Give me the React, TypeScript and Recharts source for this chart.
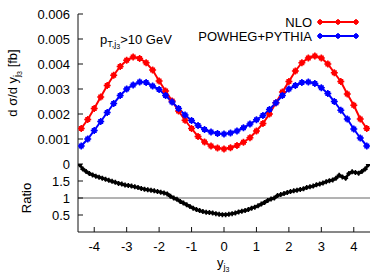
import React from 'react';
import { LineChart, Line, XAxis, YAxis, ReferenceLine, Legend } from 'recharts';

const W = 390;
const H = 273;
const FONT = '"Liberation Sans", Arial, Helvetica, sans-serif';
const RED = '#ff0000';
const BLUE = '#0000ff';

// bin centres of the distribution
const yBins = [
  -4.4, -4.2, -4.0, -3.8, -3.6, -3.4, -3.2, -3.0, -2.8, -2.6, -2.4, -2.2, -2.0, -1.8, -1.6, -1.4, -1.2, -1.0, -0.8, -0.6, -0.4, -0.2, 0.0,
  0.2, 0.4, 0.6, 0.8, 1.0, 1.2, 1.4, 1.6, 1.8, 2.0, 2.2, 2.4, 2.6, 2.8, 3.0, 3.2, 3.4, 3.6, 3.8, 4.0, 4.2, 4.4,
];

const nlo = [
  0.00142, 0.00178, 0.00222, 0.00268, 0.00314, 0.00355, 0.0039, 0.00415, 0.00428, 0.00422, 0.00405, 0.00376, 0.00332, 0.00292, 0.00252, 0.00212, 0.00175, 0.00142, 0.0011, 0.00088, 0.00072, 0.00064, 0.0006,
  0.00065, 0.00074, 0.00087, 0.00105, 0.00132, 0.00162, 0.002, 0.00245, 0.00288, 0.0033, 0.00372, 0.00405, 0.00424, 0.00432, 0.00424, 0.004, 0.00365, 0.0033, 0.0028, 0.00235, 0.0018, 0.00142,
];

const powheg = [
  0.00072, 0.001, 0.00134, 0.0017, 0.00206, 0.00242, 0.00274, 0.003, 0.00316, 0.00328, 0.00326, 0.00312, 0.00298, 0.00274, 0.00248, 0.00222, 0.00196, 0.00174, 0.00154, 0.00138, 0.00128, 0.00122, 0.0012,
  0.00124, 0.00132, 0.00145, 0.0016, 0.00177, 0.00194, 0.00218, 0.00245, 0.00274, 0.003, 0.00314, 0.00326, 0.00328, 0.00322, 0.00305, 0.00282, 0.0025, 0.00215, 0.0018, 0.0014, 0.00104, 0.00072,
];

// finer bins of the ratio panel
const ratioBins = [
  -4.45, -4.35, -4.25, -4.15, -4.05, -3.95, -3.85, -3.75, -3.65, -3.55, -3.45, -3.35, -3.25, -3.15, -3.05,
  -2.95, -2.85, -2.75, -2.65, -2.55, -2.45, -2.35, -2.25, -2.15, -2.05, -1.95, -1.85, -1.75, -1.65, -1.55,
  -1.45, -1.35, -1.25, -1.15, -1.05, -0.95, -0.85, -0.75, -0.65, -0.55, -0.45, -0.35, -0.25, -0.15, -0.05,
  0.05, 0.15, 0.25, 0.35, 0.45, 0.55, 0.65, 0.75, 0.85, 0.95, 1.05, 1.15, 1.25, 1.35, 1.45,
  1.55, 1.65, 1.75, 1.85, 1.95, 2.05, 2.15, 2.25, 2.35, 2.45, 2.55, 2.65, 2.75, 2.85, 2.95,
  3.05, 3.15, 3.25, 3.35, 3.45, 3.55, 3.65, 3.75, 3.85, 3.95, 4.05, 4.15, 4.25, 4.35, 4.45,
];

const ratioVals = [
  1.98, 1.85, 1.78, 1.72, 1.68, 1.64, 1.61, 1.58, 1.55, 1.52, 1.49, 1.46, 1.43, 1.41, 1.38,
  1.37, 1.35, 1.33, 1.31, 1.28, 1.26, 1.24, 1.23, 1.21, 1.19, 1.17, 1.15, 1.12, 1.05, 1.0,
  0.96, 0.9, 0.85, 0.8, 0.75, 0.7, 0.66, 0.63, 0.6, 0.58, 0.57, 0.56, 0.54, 0.52, 0.51,
  0.51, 0.52, 0.54, 0.56, 0.59, 0.61, 0.63, 0.66, 0.7, 0.73, 0.77, 0.82, 0.87, 0.93, 0.97,
  1.0, 1.07, 1.1, 1.13, 1.16, 1.19, 1.21, 1.23, 1.25, 1.27, 1.31, 1.33, 1.35, 1.39, 1.41,
  1.44, 1.48, 1.51, 1.53, 1.58, 1.67, 1.62, 1.58, 1.72, 1.77, 1.75, 1.73, 1.78, 1.85, 1.98,
];

const xTicks = [-4, -3, -2, -1, 0, 1, 2, 3, 4];
const topYTicks = [0, 0.001, 0.002, 0.003, 0.004, 0.005, 0.006];
const ratioYTicks = [0.5, 1, 1.5];

const mainData = yBins.map((y, i) => ({ y, nlo: nlo[i], powheg: powheg[i] }));
const ratioData = ratioBins.map((y, i) => ({ y, r: ratioVals[i] }));

const tickFont = { fontSize: 13, fill: '#000', fontFamily: FONT };
const frame = { stroke: '#111', strokeWidth: 1 };
const NoTick = () => <g />;

const CrossBox = ({ cx, cy, color, s, a }: { cx: number; cy: number; color: string; s: number; a: number }) => {
  if (cx == null || cy == null || isNaN(cx) || isNaN(cy)) return <g />;
  return (
    <g>
      <rect x={cx - s / 2} y={cy - s / 2} width={s} height={s} fill={color} />
      <path d={`M${cx - a},${cy}H${cx + a}M${cx},${cy - a}V${cy + a}`} stroke={color} strokeWidth={1.6} />
    </g>
  );
};

const makeDot = (color: string, s: number, a: number) => (p: any) => (
  <CrossBox key={`d${p.index}`} cx={p.cx} cy={p.cy} color={color} s={s} a={a} />
);

const LegendContent = (props: any) => {
  const payload = props.payload || [];
  return (
    <svg width={W} height={50} style={{ display: 'block', overflow: 'visible' }}>
      {payload.map((e: any, i: number) => {
        const yy = 22 + i * 14;
        return (
          <g key={i}>
            <text x={312} y={yy} textAnchor="end" dominantBaseline="central" fontSize={13} fontFamily={FONT} fill="#000">
              {e.value}
            </text>
            <line x1={320} x2={356} y1={yy} y2={yy} stroke={e.color} strokeWidth={2} />
            <CrossBox cx={320} cy={yy} color={e.color} s={4} a={3} />
            <CrossBox cx={338} cy={yy} color={e.color} s={4} a={3} />
            <CrossBox cx={356} cy={yy} color={e.color} s={4} a={3} />
          </g>
        );
      })}
    </svg>
  );
};

export default function App() {
  return (
    <div style={{ position: 'absolute', left: 0, top: 0, width: W, height: H, background: '#fff', fontFamily: FONT }}>
      <div style={{ position: 'absolute', left: 0, top: 0 }}>
        <LineChart width={W} height={H} data={mainData} margin={{ top: 14, right: 20, bottom: 109, left: 0 }}>
          <XAxis xAxisId="b" dataKey="y" type="number" domain={[-4.5, 4.5]} ticks={xTicks} interval={0}
            orientation="bottom" height={0} tick={NoTick} tickSize={-5} axisLine={frame} tickLine={frame} allowDataOverflow />
          <XAxis xAxisId="t" dataKey="y" type="number" domain={[-4.5, 4.5]} ticks={xTicks} interval={0}
            orientation="top" height={0} tick={NoTick} tickSize={-5} axisLine={frame} tickLine={frame} allowDataOverflow />
          <YAxis yAxisId="l" type="number" domain={[0, 0.006]} ticks={topYTicks} interval={0} width={78}
            tickSize={-5} tickMargin={13} tick={tickFont} axisLine={frame} tickLine={frame}
            tickFormatter={(v: number) => (v === 0 ? '0' : v.toFixed(3))} allowDataOverflow />
          <YAxis yAxisId="r" orientation="right" type="number" domain={[0, 0.006]} ticks={topYTicks} interval={0} width={0}
            tickSize={-5} tick={NoTick} axisLine={frame} tickLine={frame} allowDataOverflow />
          <Line xAxisId="b" yAxisId="l" dataKey="nlo" name="NLO" stroke={RED} strokeWidth={2}
            dot={makeDot(RED, 5, 3.5)} activeDot={false} isAnimationActive={false} />
          <Line xAxisId="b" yAxisId="l" dataKey="powheg" name="POWHEG+PYTHIA" stroke={BLUE} strokeWidth={2}
            dot={makeDot(BLUE, 5, 3.5)} activeDot={false} isAnimationActive={false} />
          <Legend layout="vertical" align="center" verticalAlign="middle" content={LegendContent}
            wrapperStyle={{ position: 'absolute', left: 0, top: 0, width: W, height: 50 }} />
        </LineChart>
      </div>
      <div style={{ position: 'absolute', left: 0, top: 0 }}>
        <LineChart width={W} height={H} data={ratioData} margin={{ top: 164, right: 20, bottom: 0, left: 0 }}>
          <XAxis xAxisId="b" dataKey="y" type="number" domain={[-4.5, 4.5]} ticks={xTicks} interval={0}
            orientation="bottom" height={41} tick={tickFont} tickSize={-5} tickMargin={15} axisLine={frame} tickLine={frame} allowDataOverflow />
          <XAxis xAxisId="t" dataKey="y" type="number" domain={[-4.5, 4.5]} ticks={xTicks} interval={0}
            orientation="top" height={0} tick={NoTick} tickSize={-5} axisLine={frame} tickLine={frame} allowDataOverflow />
          <YAxis yAxisId="l" type="number" domain={[0, 2]} ticks={ratioYTicks} interval={0} width={78}
            tickSize={-5} tickMargin={13} tick={tickFont} axisLine={frame} tickLine={frame} allowDataOverflow />
          <YAxis yAxisId="r" orientation="right" type="number" domain={[0, 2]} ticks={ratioYTicks} interval={0} width={0}
            tickSize={-5} tick={NoTick} axisLine={frame} tickLine={frame} allowDataOverflow />
          <ReferenceLine xAxisId="b" yAxisId="l" y={1} stroke="#666" strokeWidth={1} />
          <Line xAxisId="b" yAxisId="l" dataKey="r" name="Ratio" stroke="#000" strokeWidth={2.5}
            dot={makeDot('#000', 3, 2.5)} activeDot={false} isAnimationActive={false} />
        </LineChart>
      </div>
      <svg width={W} height={H} style={{ position: 'absolute', left: 0, top: 0, pointerEvents: 'none' }}>
        <text transform="translate(17,83) rotate(-90)" textAnchor="middle" fontSize={13} fontFamily={FONT} fill="#000">
          d σ/d y<tspan fontSize={9} dy={3}>j</tspan><tspan fontSize={7} dy={2}>3</tspan>
          <tspan fontSize={13} dy={-5}> [fb]</tspan>
        </text>
        <text transform="translate(31,198) rotate(-90)" textAnchor="middle" fontSize={13} fontFamily={FONT} fill="#000">
          Ratio
        </text>
        <text x={217} y={267} fontSize={13} fontFamily={FONT} fill="#000">
          y<tspan fontSize={9} dy={3}>j</tspan><tspan fontSize={7} dy={2}>3</tspan>
        </text>
        <text x={100} y={44} fontSize={13} fontFamily={FONT} fill="#000">
          p<tspan fontSize={9} dy={3}>T,j</tspan><tspan fontSize={7} dy={2}>3</tspan>
          <tspan fontSize={13} dy={-5}>&gt;10 GeV</tspan>
        </text>
      </svg>
    </div>
  );
}
